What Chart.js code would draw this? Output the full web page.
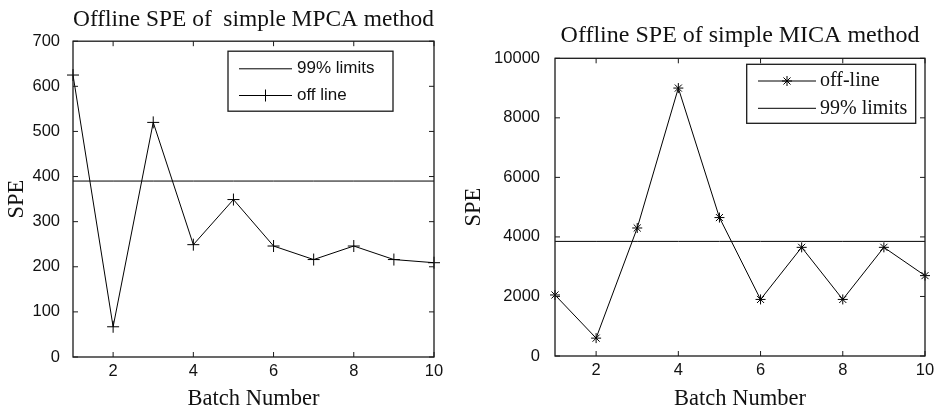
<!DOCTYPE html>
<html>
<head>
<meta charset="utf-8">
<script src="https://cdn.jsdelivr.net/npm/chart.js@4.4.1/dist/chart.umd.min.js"></script>
<style>
  body { margin: 0; background: #fff; }
  .wrap { position: absolute; top: 0; height: 413px; }
  #w1 { left: 0; width: 455px; }
  #w2 { left: 455px; width: 482px; }
</style>
</head>
<body>
<div class="wrap" id="w1"><canvas id="c1"></canvas></div>
<div class="wrap" id="w2"><canvas id="c2"></canvas></div>
<script>
var batches = [1, 2, 3, 4, 5, 6, 7, 8, 9, 10];
var xTicks = [2, 4, 6, 8, 10];

var mpcaSpe = [625, 67, 520, 249, 349, 246, 216, 246, 216, 209];
var mpcaLimit = 390;
var mpcaTicks = [0, 100, 200, 300, 400, 500, 600, 700];

var micaSpe = [2050, 600, 4300, 9000, 4650, 1900, 3650, 1900, 3650, 2700];
var micaLimit = 3850;
var micaTicks = [0, 2000, 4000, 6000, 8000, 10000];

var serif = "'Times New Roman', 'Liberation Serif', serif";
var sans = "Arial, 'Liberation Sans', sans-serif";

// matlab style box with inward ticks on all four sides
var framePlugin = {
  id: 'frame',
  afterDatasetsDraw: function (chart) {
    var a = chart.chartArea, ctx = chart.ctx;
    var xs = chart.scales.x, ys = chart.scales.y;
    ctx.save();
    ctx.strokeStyle = '#1a1a1a';
    ctx.lineWidth = 1.3;
    ctx.strokeRect(a.left, a.top, a.right - a.left, a.bottom - a.top);
    ctx.lineWidth = 1;
    ctx.beginPath();
    xs.ticks.forEach(function (t) {
      var px = xs.getPixelForValue(t.value);
      ctx.moveTo(px, a.bottom); ctx.lineTo(px, a.bottom - 5);
      ctx.moveTo(px, a.top); ctx.lineTo(px, a.top + 5);
    });
    ys.ticks.forEach(function (t) {
      var py = ys.getPixelForValue(t.value);
      ctx.moveTo(a.left, py); ctx.lineTo(a.left + 5, py);
      ctx.moveTo(a.right, py); ctx.lineTo(a.right - 5, py);
    });
    ctx.stroke();
    ctx.restore();
  }
};

// boxed legend inside the plot area
var boxLegend = {
  id: 'boxLegend',
  afterDraw: function (chart, args, opts) {
    var a = chart.chartArea, ctx = chart.ctx;
    var x0 = a.right - opts.right - opts.width;
    var y0 = a.top + opts.top;
    ctx.save();
    ctx.fillStyle = '#fff';
    ctx.fillRect(x0, y0, opts.width, opts.height);
    ctx.strokeStyle = '#1a1a1a';
    ctx.lineWidth = 1.3;
    ctx.strokeRect(x0, y0, opts.width, opts.height);
    chart.data.datasets.forEach(function (ds, i) {
      var y = y0 + opts.rows[i];
      ctx.strokeStyle = '#000';
      ctx.lineWidth = 1;
      ctx.beginPath();
      ctx.moveTo(x0 + opts.lineX[0], y);
      ctx.lineTo(x0 + opts.lineX[1], y);
      ctx.stroke();
      if (ds.pointRadius > 0) {
        Chart.helpers.drawPoint(ctx, {pointStyle: ds.pointStyle, radius: ds.pointRadius, rotation: 0, borderWidth: 1},
          x0 + (opts.lineX[0] + opts.lineX[1]) / 2, y);
      }
      ctx.fillStyle = '#111';
      ctx.font = opts.font;
      ctx.textBaseline = 'middle';
      ctx.textAlign = 'left';
      ctx.fillText(ds.label, x0 + opts.textX, y);
    });
    ctx.restore();
  }
};

function pts(vals) {
  return batches.map(function (b, i) { return {x: b, y: vals[i]}; });
}
function flat(v) {
  return batches.map(function (b) { return {x: b, y: v}; });
}

function makeChart(id, cfg) {
  var limitDs = {label: '99% limits', data: flat(cfg.limit), borderColor: '#000', borderWidth: 1,
    pointRadius: 0, tension: 0, clip: false};
  var offDs = {label: cfg.offLabel, data: pts(cfg.values), borderColor: '#000', borderWidth: 1,
    pointStyle: cfg.marker, pointRadius: cfg.markerSize, pointBorderWidth: 1, pointBorderColor: '#000',
    pointBackgroundColor: '#000', tension: 0, clip: false};
  var datasets = cfg.offFirst ? [offDs, limitDs] : [limitDs, offDs];

  return new Chart(document.getElementById(id), {
    type: 'line',
    data: {datasets: datasets},
    plugins: [framePlugin, boxLegend],
    options: {
      responsive: true,
      maintainAspectRatio: false,
      animation: false,
      devicePixelRatio: 1,
      layout: {padding: {left: 0, right: cfg.padRight, top: 0, bottom: 0}},
      plugins: {
        legend: {display: false},
        tooltip: {enabled: false},
        title: {
          display: true,
          fullSize: false,
          text: cfg.title,
          color: '#111',
          font: {family: serif, size: cfg.titleSize, weight: 'normal'},
          padding: cfg.titlePad
        },
        boxLegend: cfg.legend
      },
      scales: {
        x: {
          type: 'linear',
          min: batches[0],
          max: batches[batches.length - 1],
          afterBuildTicks: function (axis) {
            axis.ticks = xTicks.map(function (v) { return {value: v}; });
          },
          afterFit: function (s) { s.height = cfg.xHeight; },
          grid: {display: false},
          border: {display: false},
          ticks: {color: '#111', font: {family: sans, size: 16.5}, padding: -3, maxRotation: 0, autoSkip: false},
          title: {display: true, text: 'Batch Number', color: '#111',
            font: {family: serif, size: 22.5}, padding: {top: 0, bottom: cfg.xTitlePad}}
        },
        y: {
          min: cfg.yTicks[0],
          max: cfg.yTicks[cfg.yTicks.length - 1],
          afterBuildTicks: function (axis) {
            axis.ticks = cfg.yTicks.map(function (v) { return {value: v}; });
          },
          afterFit: function (s) { s.width = cfg.yWidth; },
          grid: {display: false},
          border: {display: false},
          ticks: {color: '#111', font: {family: sans, size: 16.5}, padding: cfg.yTickPad,
            callback: function (v) { return String(v); }},
          title: {display: true, text: 'SPE', color: '#111',
            font: {family: serif, size: 22.5}, padding: {top: cfg.yTitlePad, bottom: 0}}
        }
      }
    }
  });
}

makeChart('c1', {
  title: 'Offline SPE of  simple MPCA method',
  titleSize: 23.5,
  titlePad: {top: 6, bottom: 7},
  values: mpcaSpe,
  limit: mpcaLimit,
  yTicks: mpcaTicks,
  offLabel: 'off line',
  marker: 'cross',
  markerSize: 6,
  offFirst: false,
  padRight: 21,
  xHeight: 56,
  yWidth: 73,
  yTickPad: 5,
  yTitlePad: 4,
  xTitlePad: 0.5,
  legend: {right: 41, top: 10, width: 165, height: 60, rows: [17.6, 44.3], lineX: [11, 64], textX: 69,
    font: '17px ' + sans}
});

makeChart('c2', {
  title: 'Offline SPE of simple MICA method',
  titleSize: 24,
  titlePad: {top: 21.5, bottom: 8},
  values: micaSpe,
  limit: micaLimit,
  yTicks: micaTicks,
  offLabel: 'off-line',
  marker: 'star',
  markerSize: 5,
  offFirst: true,
  padRight: 12,
  xHeight: 57,
  yWidth: 100,
  yTickPad: 7,
  yTitlePad: 6,
  xTitlePad: 0,
  legend: {right: 9.3, top: 6, width: 169, height: 59, rows: [16.7, 44], lineX: [11.3, 69.3], textX: 73.3,
    font: '20px ' + serif}
});
</script>
</body>
</html>
